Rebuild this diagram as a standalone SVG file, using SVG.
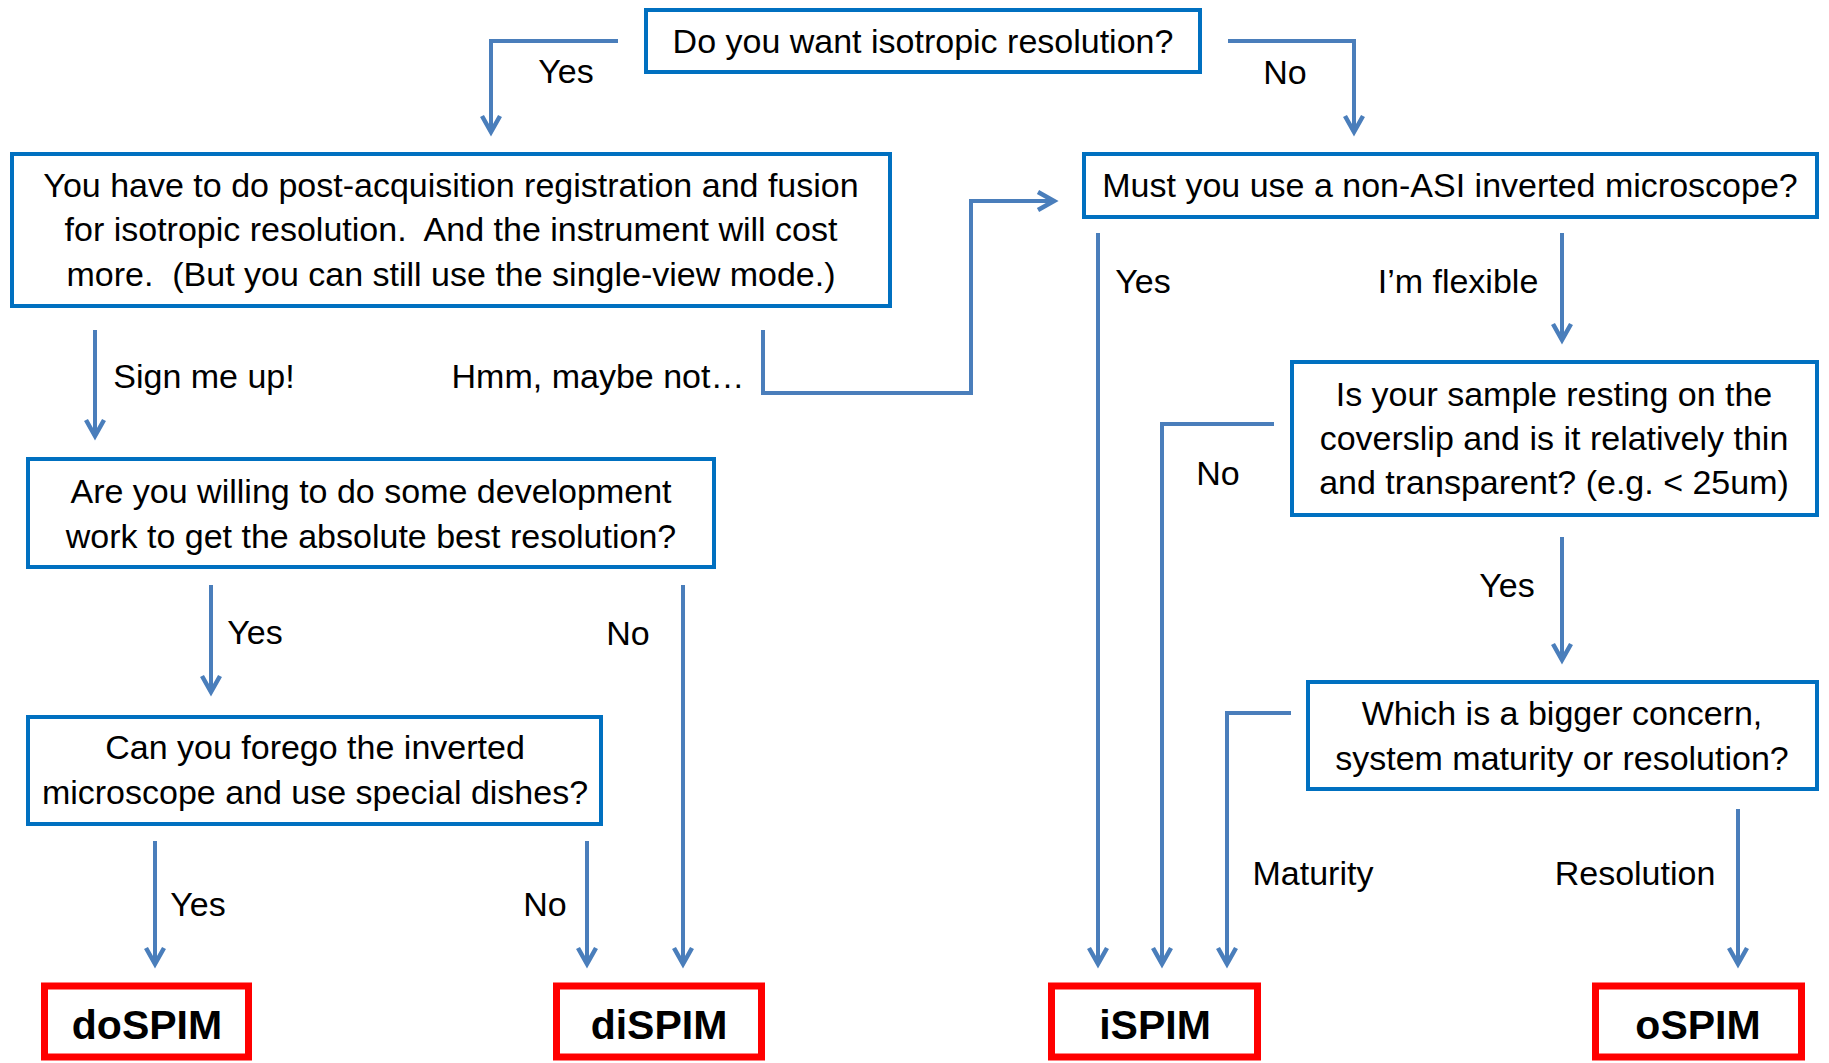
<svg xmlns="http://www.w3.org/2000/svg" width="1829" height="1063" viewBox="0 0 1829 1063">
<style>
.q{fill:#fff;stroke:#0070C0;stroke-width:4}
.r{fill:#fff;stroke:#FF0000;stroke-width:7}
.t{font-family:"Liberation Sans",Arial,sans-serif;font-size:34px;fill:#000;text-anchor:middle}
.b{font-family:"Liberation Sans",Arial,sans-serif;font-size:41px;font-weight:bold;fill:#000;text-anchor:middle}
.c{fill:none;stroke:#4A7EBB;stroke-width:4;marker-end:url(#a)}
</style>
<defs>
<marker id="a" markerUnits="userSpaceOnUse" orient="auto" refX="0" refY="0" markerWidth="30" markerHeight="30" viewBox="-20 -15 30 30" overflow="visible">
<path d="M-16,-9 L0,0 L-16,9" fill="none" stroke="#4A7EBB" stroke-width="4.5"/>
</marker>
</defs>
<g id="connectors">
<path class="c" d="M618,41 H491 V132"/>
<path class="c" d="M1228,41 H1354 V132"/>
<path class="c" d="M763,330 V393 H971 V201 H1054"/>
<path class="c" d="M95,330 V436"/>
<path class="c" d="M211,585 V692"/>
<path class="c" d="M683,585 V964"/>
<path class="c" d="M155,841 V964"/>
<path class="c" d="M587,841 V964"/>
<path class="c" d="M1098,233 V964"/>
<path class="c" d="M1562,233 V340"/>
<path class="c" d="M1274,424 H1162 V964"/>
<path class="c" d="M1562,537 V660"/>
<path class="c" d="M1291,713 H1227 V964"/>
<path class="c" d="M1738,809 V964"/>
<g id="labels">
<text class="t" x="566" y="83">Yes</text>
<text class="t" x="1285" y="84">No</text>
<text class="t" x="204" y="388">Sign me up!</text>
<text class="t" x="598" y="388">Hmm, maybe not…</text>
<text class="t" x="255" y="644">Yes</text>
<text class="t" x="628" y="645">No</text>
<text class="t" x="198" y="916">Yes</text>
<text class="t" x="545" y="916">No</text>
<text class="t" x="1143" y="293">Yes</text>
<text class="t" x="1458" y="293">I’m flexible</text>
<text class="t" x="1218" y="485">No</text>
<text class="t" x="1507" y="597">Yes</text>
<text class="t" x="1313" y="885">Maturity</text>
<text class="t" x="1635" y="885">Resolution</text>
</g>
</g>
<g id="q1"><rect class="q" x="646" y="10" width="554" height="62"/><text class="t" x="923" y="53">Do you want isotropic resolution?</text></g>
<g id="q2"><rect class="q" x="12" y="154" width="878" height="152"/>
<text class="t" x="451" y="197">You have to do post-acquisition registration and fusion</text>
<text class="t" x="451" y="241">for isotropic resolution.&#160; And the instrument will cost</text>
<text class="t" x="451" y="286">more.&#160; (But you can still use the single-view mode.)</text></g>
<g id="q3"><rect class="q" x="1084" y="154" width="733" height="63"/><text class="t" x="1450" y="197">Must you use a non-ASI inverted microscope?</text></g>
<g id="q4"><rect class="q" x="28" y="459" width="686" height="108"/>
<text class="t" x="371" y="503">Are you willing to do some development</text>
<text class="t" x="371" y="548">work to get the absolute best resolution?</text></g>
<g id="q5"><rect class="q" x="28" y="717" width="573" height="107"/>
<text class="t" x="315" y="759">Can you forego the inverted</text>
<text class="t" x="315" y="804">microscope and use special dishes?</text></g>
<g id="q6"><rect class="q" x="1292" y="362" width="525" height="153"/>
<text class="t" x="1554" y="406">Is your sample resting on the</text>
<text class="t" x="1554" y="450">coverslip and is it relatively thin</text>
<text class="t" x="1554" y="494">and transparent? (e.g. &lt; 25um)</text></g>
<g id="q7"><rect class="q" x="1308" y="682" width="509" height="107"/>
<text class="t" x="1562" y="725">Which is a bigger concern,</text>
<text class="t" x="1562" y="770">system maturity or resolution?</text></g>
<g id="doSPIM"><rect class="r" x="44.5" y="986" width="204" height="71"/><text class="b" x="147" y="1039">doSPIM</text></g>
<g id="diSPIM"><rect class="r" x="556.5" y="986" width="205" height="71"/><text class="b" x="659" y="1039">diSPIM</text></g>
<g id="iSPIM"><rect class="r" x="1051.5" y="986" width="206" height="71"/><text class="b" x="1155" y="1039">iSPIM</text></g>
<g id="oSPIM"><rect class="r" x="1595.5" y="986" width="206" height="71"/><text class="b" x="1698" y="1039">oSPIM</text></g>
</svg>
